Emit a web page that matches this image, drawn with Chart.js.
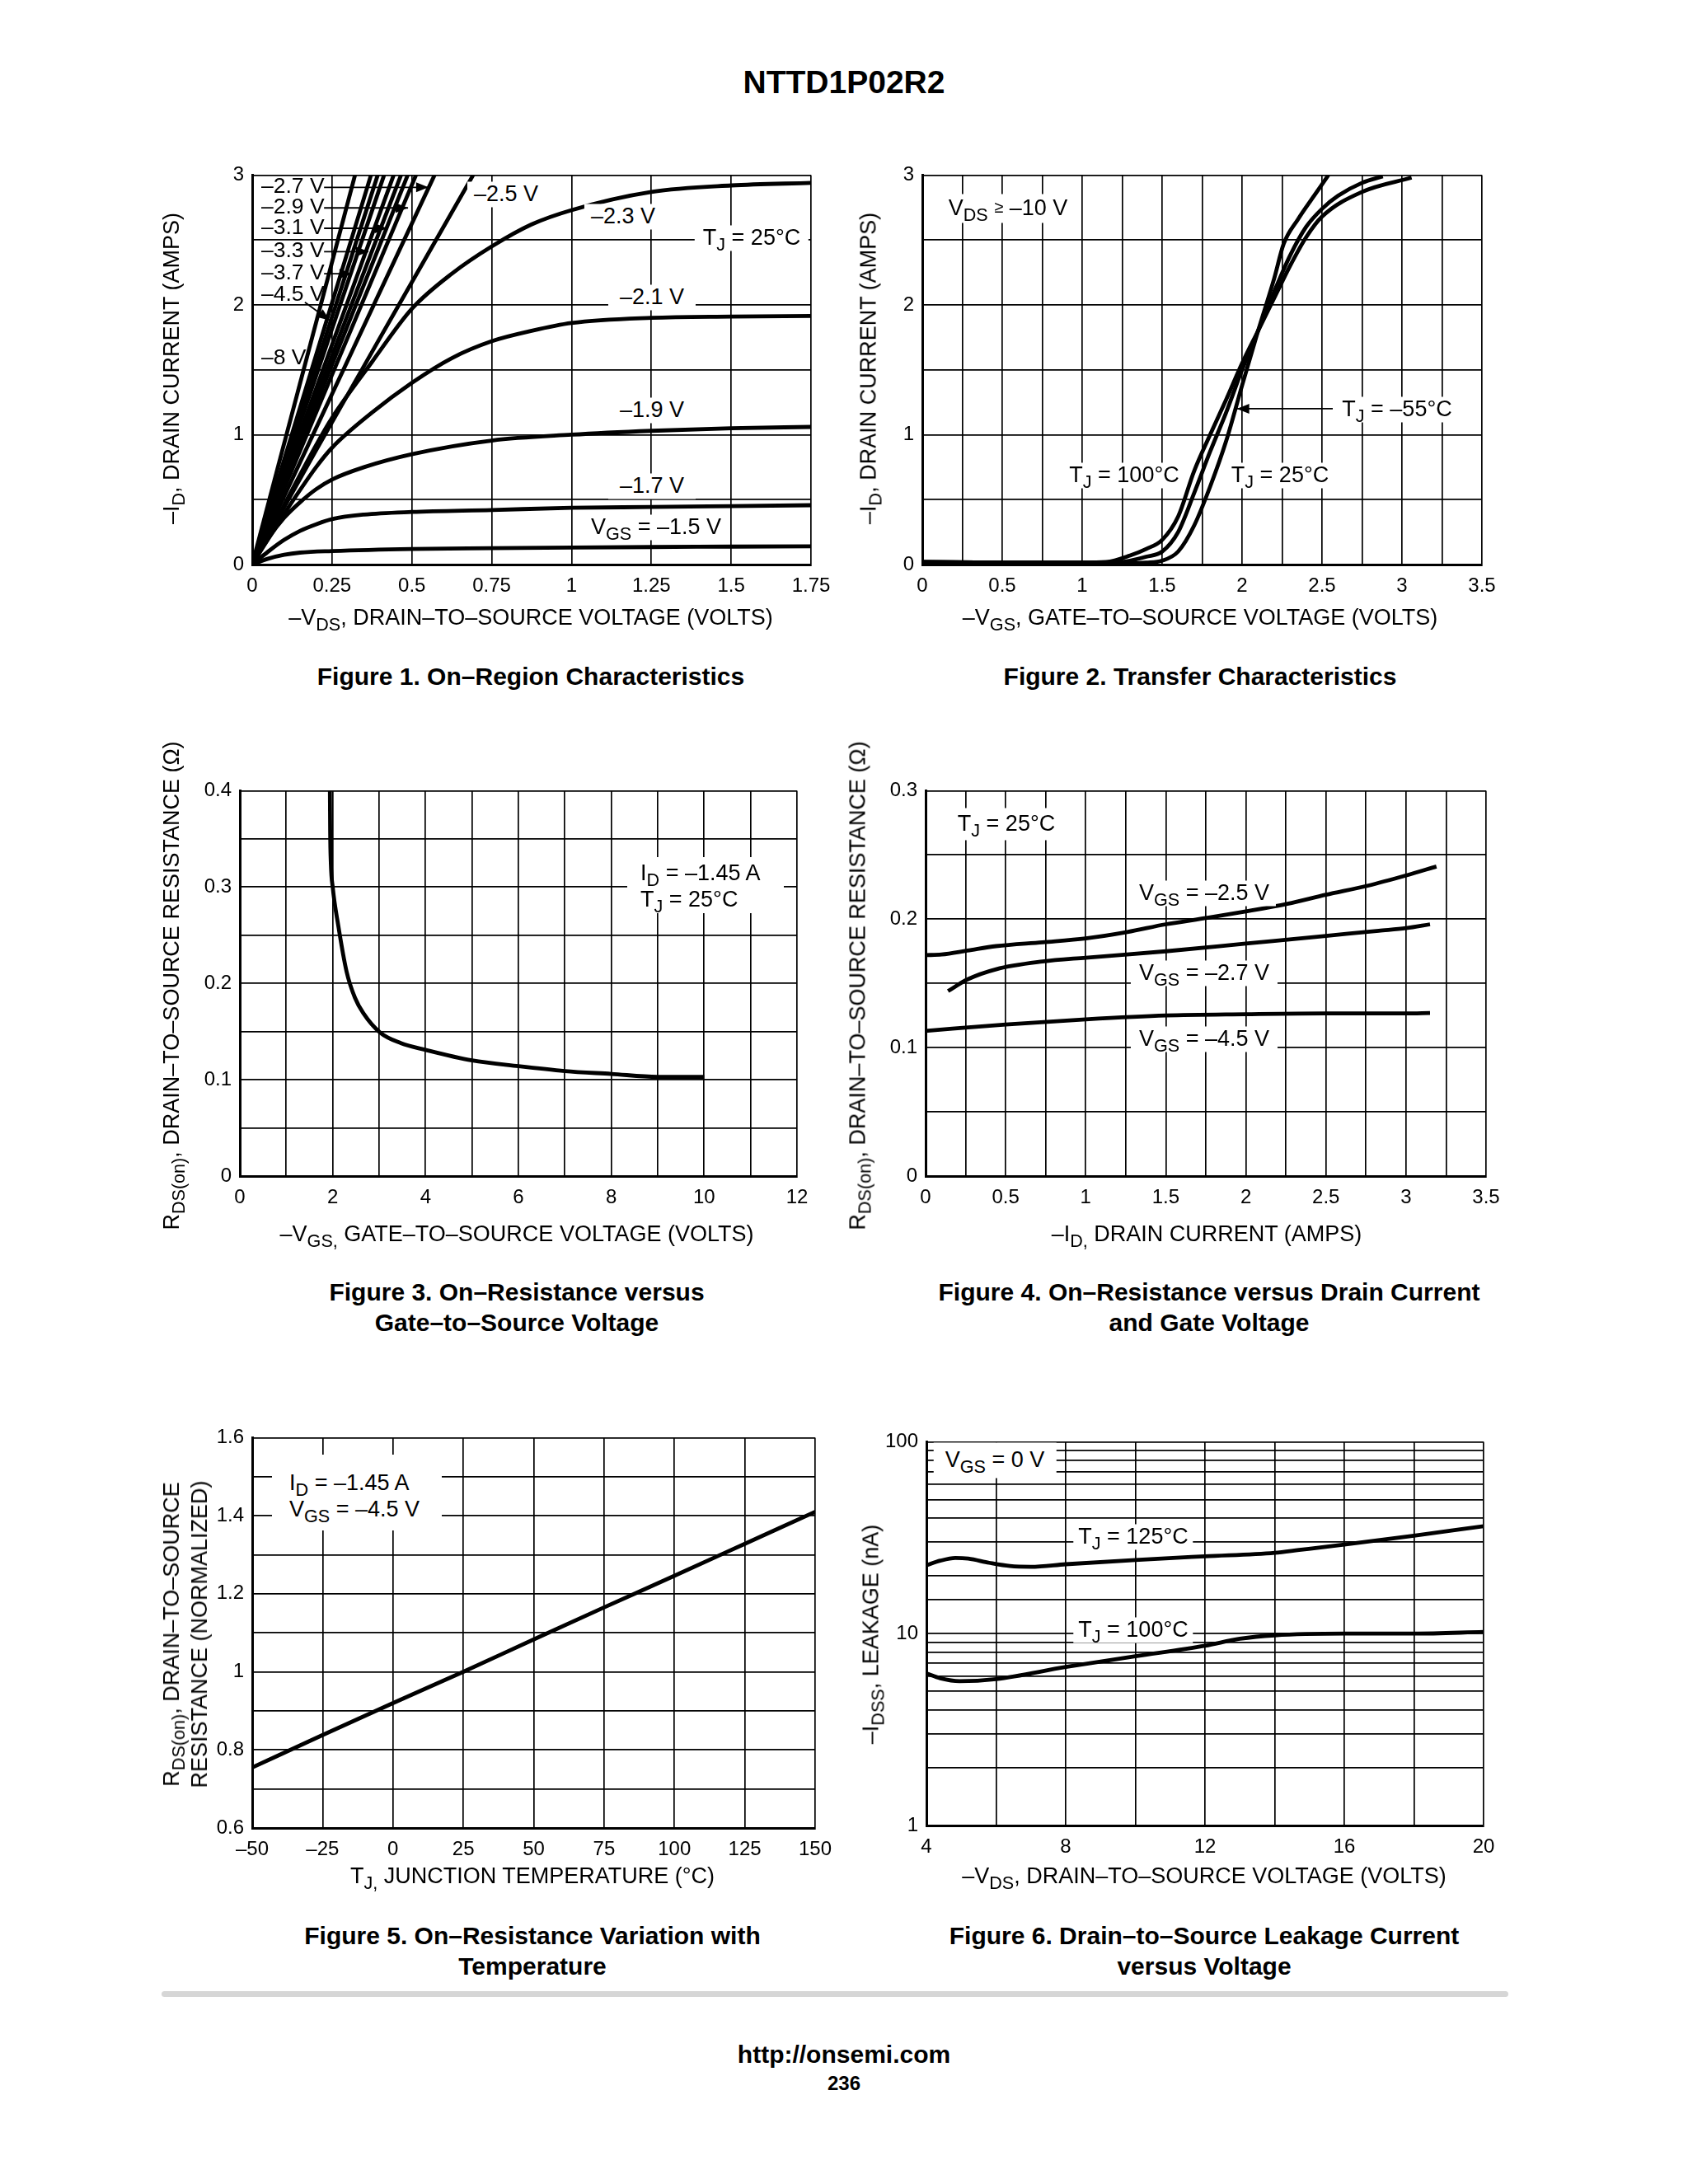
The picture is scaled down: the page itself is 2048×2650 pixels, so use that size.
<!DOCTYPE html>
<html><head><meta charset="utf-8">
<script src="https://cdn.jsdelivr.net/npm/chart.js@4.4.0/dist/chart.umd.min.js"></script>
<style>
html,body{margin:0;padding:0;background:#fff;}
#page{position:relative;width:2048px;height:2650px;background:#fff;font-family:"Liberation Sans",Arial,Helvetica,sans-serif;color:#000;overflow:hidden;}
.t{position:absolute;white-space:nowrap;transform:translate(-50%,-50%);line-height:1.15;}
.tl{position:absolute;white-space:nowrap;transform:translate(0,-50%);line-height:1.15;font-size:26.5px;}
.ann{font-size:27px;background:#fff;padding:0 8px;}
.ax{font-size:27px;}
.rot{transform:translate(-50%,-50%) rotate(-90deg);}
.cap{font-size:30px;font-weight:bold;text-align:center;line-height:37px;}
.box{position:absolute;background:#fff;font-size:27px;line-height:32px;white-space:nowrap;box-sizing:border-box;}
sub{font-size:0.8em;vertical-align:-0.32em;line-height:0;}
.sep{position:absolute;left:196px;top:2416px;width:1634px;height:7px;background:#d6d6d6;border-radius:4px;}
</style></head><body><div id="page"></div>
<script>
// ---------------- DATA ----------------
// Figure 1: On-Region Characteristics  (x = -VDS volts, y = -ID amps)
const f1_vds_15 = [0,0.05,0.1,0.15,0.25,0.5,0.75,1,1.25,1.5,1.75];
const f1_id_15  = [0,0.045,0.075,0.092,0.104,0.12,0.126,0.131,0.135,0.138,0.141];
const f1_vds_17 = [0,0.05,0.1,0.15,0.2,0.25,0.35,0.5,0.75,1,1.25,1.5,1.75];
const f1_id_17  = [0,0.1,0.19,0.26,0.31,0.35,0.385,0.405,0.42,0.437,0.443,0.45,0.457];
const f1_vds_19 = [0,0.05,0.1,0.15,0.2,0.25,0.35,0.5,0.75,1,1.25,1.5,1.75];
const f1_id_19  = [0,0.2,0.36,0.48,0.58,0.655,0.75,0.85,0.955,1.0,1.03,1.05,1.06];
const f1_vds_21 = [0,0.1,0.2,0.25,0.375,0.5,0.625,0.75,0.875,1,1.25,1.5,1.75];
const f1_id_21  = [0,0.39,0.75,0.9,1.17,1.40,1.59,1.72,1.80,1.86,1.90,1.91,1.915];
const f1_vds_23 = [0,0.1,0.2,0.25,0.375,0.5,0.625,0.75,0.875,1,1.25,1.5,1.75];
const f1_id_23  = [0,0.46,0.92,1.13,1.56,1.97,2.24,2.45,2.62,2.73,2.87,2.92,2.94];
const f1_vds_25 = [0,0.2,0.45,0.692];
const f1_id_25  = [0,0.88,1.96,3.0];
// steep curves (VGS -2.7 ... -8 V): VDS where each reaches 3 A
const f1_steep_labels = ["–2.7 V","–2.9 V","curve 3","–3.1 V","–3.3 V","curve 6","–3.7 V","–4.5 V","–8 V"];
const f1_steep_vds_at3A = [0.571,0.513,0.487,0.466,0.443,0.413,0.393,0.372,0.322];

// Figure 2: Transfer Characteristics (x = -VGS, y = -ID)
const f2_vgs_100 = [0,0.5,1.0,1.15,1.3,1.4,1.5,1.6,1.7,1.8,1.9,2.0,2.1,2.2,2.3,2.4,2.5,2.75,3.06];
const f2_id_100  = [0.02,0.015,0.015,0.02,0.07,0.12,0.19,0.37,0.72,1.0,1.27,1.55,1.8,2.05,2.3,2.52,2.68,2.87,2.98];
const f2_vgs_25  = [0,0.5,1.0,1.2,1.3,1.4,1.5,1.6,1.7,1.8,1.9,2.0,2.1,2.2,2.3,2.4,2.5,2.6,2.75,2.88];
const f2_id_25   = [0.02,0.015,0.015,0.015,0.03,0.06,0.1,0.25,0.55,0.87,1.17,1.5,1.8,2.1,2.38,2.6,2.74,2.84,2.94,2.99];
const f2_vgs_m55 = [0,0.5,1.0,1.3,1.4,1.5,1.6,1.7,1.8,1.9,2.0,2.1,2.2,2.26,2.35,2.45,2.54];
const f2_id_m55  = [0.02,0.015,0.015,0.01,0.015,0.03,0.1,0.3,0.6,0.95,1.38,1.8,2.2,2.47,2.66,2.84,3.0];

// Figure 3: RDS(on) vs -VGS
const f3_vgs = [1.94,1.945,1.96,2.0,2.12,2.3,2.48,2.66,3.02,3.47,4.0,5,6,7,8,9,10];
const f3_r   = [0.40,0.36,0.325,0.30,0.26,0.212,0.185,0.169,0.149,0.138,0.131,0.120,0.114,0.109,0.106,0.103,0.103];

// Figure 4: RDS(on) vs -ID
const f4_id_25 = [0,0.1,0.26,0.44,0.73,1,1.26,1.5,1.76,2,2.26,2.5,2.76,3,3.19];
const f4_r_25  = [0.172,0.1725,0.1755,0.179,0.182,0.185,0.19,0.196,0.201,0.206,0.212,0.219,0.226,0.234,0.241];
const f4_id_27 = [0.14,0.26,0.44,0.73,1,1.5,2,2.5,2.83,3,3.15];
const f4_r_27  = [0.144,0.153,0.161,0.167,0.170,0.175,0.181,0.187,0.191,0.193,0.196];
const f4_id_45 = [0,0.5,1,1.5,2,2.5,3,3.15];
const f4_r_45  = [0.113,0.118,0.122,0.125,0.126,0.1266,0.1266,0.127];

// Figure 5: normalized RDS(on) vs TJ
const f5_tj = [-50,-25,0,25,50,75,100,125,150];
const f5_r  = [0.755,0.838,0.92,1.0,1.083,1.165,1.246,1.328,1.41];

// Figure 6: -IDSS (nA) vs -VDS
const f6_vds_125 = [4,4.4,4.83,5.2,5.8,6.4,7,8,10,12,14,14.7,16,18,20];
const f6_i_125   = [22.7,24.0,24.8,24.6,23.4,22.5,22.3,23.0,24.2,25.3,26.4,27.3,29.1,32.4,36.3];
const f6_vds_100 = [4,4.4,4.95,6,8,10,12,13,14,16,18,20];
const f6_i_100   = [6.2,5.85,5.65,5.8,6.7,7.62,8.65,9.4,9.8,10.0,10.0,10.2];

// ---------------- RENDER ----------------
const FONT = '"Liberation Sans", Arial, Helvetica, sans-serif';
Chart.defaults.font.family = FONT;
const page = document.getElementById('page');

function ds(xs, ys, label){
  return {label, data: xs.map((x,i)=>({x, y: ys[i]})), borderColor:'#000', borderWidth:4.8,
          pointRadius:0, fill:false, cubicInterpolationMode:'monotone'};
}
const arrowPlugin = {
  id:'arrows',
  afterDatasetsDraw(chart, args, opts){
    if(!opts || !opts.list) return;
    const ctx = chart.ctx, xs = chart.scales.x, ys = chart.scales.y;
    ctx.save(); ctx.strokeStyle='#000'; ctx.fillStyle='#000'; ctx.lineWidth=1.8;
    opts.list.forEach(a=>{
      const x1=xs.getPixelForValue(a[0]), y1=ys.getPixelForValue(a[1]);
      const x2=xs.getPixelForValue(a[2]), y2=ys.getPixelForValue(a[3]);
      ctx.beginPath(); ctx.moveTo(x1,y1); ctx.lineTo(x2,y2); ctx.stroke();
      const ang=Math.atan2(y2-y1,x2-x1), hl=15, hw=6;
      ctx.beginPath(); ctx.moveTo(x2,y2);
      ctx.lineTo(x2-hl*Math.cos(ang)+hw*Math.sin(ang), y2-hl*Math.sin(ang)-hw*Math.cos(ang));
      ctx.lineTo(x2-hl*Math.cos(ang)-hw*Math.sin(ang), y2-hl*Math.sin(ang)+hw*Math.cos(ang));
      ctx.closePath(); ctx.fill();
    });
    ctx.restore();
  }
};
const L=95, T=22, R=50, B=56;
function axis(o, isX){
  const a = {
    type: o.type || 'linear', min:o.min, max:o.max,
    ticks:{autoSkip:false, maxRotation:0, minRotation:0, padding: isX?12:10, color:'#000',
           font:{family:FONT,size:24}, callback:o.fmt},
    grid:{color:'#000', lineWidth:1.7, drawTicks:false},
    border:{display:true, color:'#000', width:3},
    afterFit(s){ if(isX) s.height=B; else s.width=L; }
  };
  if(o.step) a.ticks.stepSize = o.step;
  return a;
}
function build(plot, xo, yo, datasets, arrows){
  const cv=document.createElement('canvas');
  cv.width=plot.w+L+R; cv.height=plot.h+T+B;
  cv.style.position='absolute'; cv.style.left=(plot.x-L)+'px'; cv.style.top=(plot.y-T)+'px';
  page.appendChild(cv);
  new Chart(cv.getContext('2d'), {
    type:'line', data:{datasets},
    options:{responsive:false, animation:false, devicePixelRatio:1,
      layout:{padding:{left:0,top:T,right:R,bottom:0}},
      plugins:{legend:{display:false}, tooltip:{enabled:false}, arrows:{list:arrows||[]}},
      scales:{x:axis(xo,true), y:axis(yo,false)}},
    plugins:[arrowPlugin]
  });
}
const num = (v,d)=>String(Number(v.toFixed(d)));
const onStep = (v,s)=>Math.abs(v/s-Math.round(v/s))<1e-6;
const dashNum = v => v<0 ? '–'+Math.abs(v) : String(v);

// Figure 1
const f1sets = [ds(f1_vds_15,f1_id_15,'VGS –1.5 V'), ds(f1_vds_17,f1_id_17,'–1.7 V'), ds(f1_vds_19,f1_id_19,'–1.9 V'),
  ds(f1_vds_21,f1_id_21,'–2.1 V'), ds(f1_vds_23,f1_id_23,'–2.3 V'), ds(f1_vds_25,f1_id_25,'–2.5 V')];
f1_steep_vds_at3A.forEach((v,i)=>f1sets.push(ds([0,v],[0,3],f1_steep_labels[i])));
build({x:306,y:210,w:678,h:475},
  {min:0,max:1.75,step:0.25,fmt:v=>num(v,2)},
  {min:0,max:3,step:0.5,fmt:v=>onStep(v,1)?num(v,0):''},
  f1sets,
  [[0.225,2.905,0.552,2.905],[0.225,2.747,0.488,2.747],[0.225,2.59,0.423,2.59],
   [0.225,2.41,0.364,2.41],[0.225,2.24,0.312,2.24],[0.165,2.02,0.243,1.88]]);

// Figure 2
build({x:1119,y:210,w:679,h:475},
  {min:0,max:3.5,step:0.25,fmt:v=>onStep(v,0.5)?num(v,1):''},
  {min:0,max:3,step:0.5,fmt:v=>onStep(v,1)?num(v,0):''},
  [ds(f2_vgs_100,f2_id_100,'TJ = 100°C'), ds(f2_vgs_25,f2_id_25,'TJ = 25°C'), ds(f2_vgs_m55,f2_id_m55,'TJ = –55°C')],
  [[2.567,1.2,1.967,1.2]]);

// Figure 3
build({x:291,y:957,w:676,h:470},
  {min:0,max:12,step:1,fmt:v=>onStep(v,2)?num(v,0):''},
  {min:0,max:0.4,step:0.05,fmt:v=>onStep(v,0.1)?num(v,1):''},
  [ds(f3_vgs,f3_r,'ID = –1.45 A')]);

// Figure 4
build({x:1123,y:957,w:680,h:470},
  {min:0,max:3.5,step:0.25,fmt:v=>onStep(v,0.5)?num(v,1):''},
  {min:0,max:0.3,step:0.05,fmt:v=>onStep(v,0.1)?num(v,1):''},
  [ds(f4_id_25,f4_r_25,'VGS = –2.5 V'), ds(f4_id_27,f4_r_27,'VGS = –2.7 V'), ds(f4_id_45,f4_r_45,'VGS = –4.5 V')]);

// Figure 5
build({x:306,y:1742,w:683,h:476},
  {min:-50,max:150,step:25,fmt:v=>dashNum(Math.round(v))},
  {min:0.6,max:1.6,step:0.1,fmt:v=>onStep(v,0.2)?num(v,1):''},
  [ds(f5_tj,f5_r,'ID = –1.45 A, VGS = –4.5 V')]);

// Figure 6
build({x:1124,y:1747,w:676,h:468},
  {min:4,max:20,step:2,fmt:v=>onStep(v-4,4)?num(v,0):''},
  {type:'logarithmic',min:1,max:100,fmt:v=>{const l=Math.log10(v);return Math.abs(l-Math.round(l))<1e-6?num(v,0):'';}},
  [ds(f6_vds_125,f6_i_125,'TJ = 125°C'), ds(f6_vds_100,f6_i_100,'TJ = 100°C')]);

// ---------------- TEXT ----------------
function txt(html, x, y, cls, style){
  const d=document.createElement('div'); d.className=cls; d.innerHTML=html;
  d.style.left=x+'px'; d.style.top=y+'px'; if(style) Object.assign(d.style, style);
  page.appendChild(d); return d;
}
txt('NTTD1P02R2',1024,100,'t',{fontSize:'39px',fontWeight:'bold'});

// Fig 1 labels
[['–2.7 V',225],['–2.9 V',250],['–3.1 V',275],['–3.3 V',303],['–3.7 V',330],['–4.5 V',356],['–8 V',433]]
  .forEach(a=>txt(a[0],317,a[1],'tl'));
txt('–2.5 V',614,236,'t ann');
txt('–2.3 V',756,263,'t ann');
txt('T<sub>J</sub> = 25°C',912,289,'t ann',{padding:'0 10px'});
txt('–2.1 V',791,361,'t ann',{padding:'0 14px'});
txt('–1.9 V',791,498,'t ann');
txt('–1.7 V',791,590,'t ann',{padding:'0 14px'});
txt('V<sub>GS</sub> = –1.5 V',796,640,'t ann');
txt('–I<sub>D</sub>, DRAIN CURRENT (AMPS)',209,447,'t ax rot');
txt('–V<sub>DS</sub>, DRAIN–TO–SOURCE VOLTAGE (VOLTS)',644,750,'t ax');
txt('Figure 1. On–Region Characteristics',644,820,'t cap');

// Fig 2 labels
txt('V<sub>DS</sub> <span style="font-size:20px;vertical-align:3px">≥</span> –10 V',1223,253,'t ann',{padding:'2px 10px'});
txt('T<sub>J</sub> = –55°C',1695,497,'t ann',{padding:'0 4px'});
txt('T<sub>J</sub> = 100°C',1364,577,'t ann',{padding:'0 4px'});
txt('T<sub>J</sub> = 25°C',1553,577,'t ann',{padding:'0 6px'});
txt('–I<sub>D</sub>, DRAIN CURRENT (AMPS)',1054,447,'t ax rot');
txt('–V<sub>GS</sub>, GATE–TO–SOURCE VOLTAGE (VOLTS)',1456,750,'t ax');
txt('Figure 2. Transfer Characteristics',1456,820,'t cap');

// Fig 3 labels
txt('<div style="padding:3px 0 0 16px">I<sub>D</sub> = –1.45 A<br>T<sub>J</sub> = 25°C</div>',761,1040,'box',{width:'190px',height:'68px'});
txt('R<sub>DS(on)</sub>, DRAIN–TO–SOURCE RESISTANCE (Ω)',209,1196,'t ax rot');
txt('–V<sub>GS,</sub> GATE–TO–SOURCE VOLTAGE (VOLTS)',627,1498,'t ax');
txt('Figure 3. On–Resistance versus<br>Gate–to–Source Voltage',627,1586,'t cap');

// Fig 4 labels
txt('T<sub>J</sub> = 25°C',1221,1000,'t ann',{padding:'4px 12px'});
txt('V<sub>GS</sub> = –2.5 V',1461,1084,'t ann');
txt('V<sub>GS</sub> = –2.7 V',1461,1181,'t ann',{padding:'0 10px'});
txt('V<sub>GS</sub> = –4.5 V',1461,1261,'t ann',{padding:'0 10px'});
txt('R<sub>DS(on)</sub>, DRAIN–TO–SOURCE RESISTANCE (Ω)',1041,1196,'t ax rot');
txt('–I<sub>D,</sub> DRAIN CURRENT (AMPS)',1464,1498,'t ax');
txt('Figure 4. On–Resistance versus Drain Current<br>and Gate Voltage',1467,1586,'t cap');

// Fig 5 labels
txt('<div style="padding:18px 0 0 21px;line-height:32px">I<sub>D</sub> = –1.45 A<br>V<sub>GS</sub> = –4.5 V</div>',330,1765,'box',{width:'206px',height:'92px'});
txt('R<sub>DS(on)</sub>, DRAIN–TO–SOURCE<br>RESISTANCE (NORMALIZED)',225,1983,'t ax rot',{textAlign:'center',lineHeight:'34px'});
txt('T<sub>J,</sub> JUNCTION TEMPERATURE (°C)',646,2277,'t ax');
txt('Figure 5. On–Resistance Variation with<br>Temperature',646,2367,'t cap');

// Fig 6 labels
txt('V<sub>GS</sub> = 0 V',1207,1772,'t ann',{padding:'6px 14px'});
txt('T<sub>J</sub> = 125°C',1375,1865,'t ann',{padding:'0 6px'});
txt('T<sub>J</sub> = 100°C',1375,1978,'t ann',{padding:'0 6px'});
txt('–I<sub>DSS</sub>, LEAKAGE (nA)',1057,1983,'t ax rot');
txt('–V<sub>DS</sub>, DRAIN–TO–SOURCE VOLTAGE (VOLTS)',1461,2277,'t ax');
txt('Figure 6. Drain–to–Source Leakage Current<br>versus Voltage',1461,2367,'t cap');

// footer
const sep=document.createElement('div'); sep.className='sep'; page.appendChild(sep);
txt('http://onsemi.com',1024,2493,'t',{fontSize:'30px',fontWeight:'bold'});
txt('236',1024,2528,'t',{fontSize:'24px',fontWeight:'bold'});
</script></body></html>
